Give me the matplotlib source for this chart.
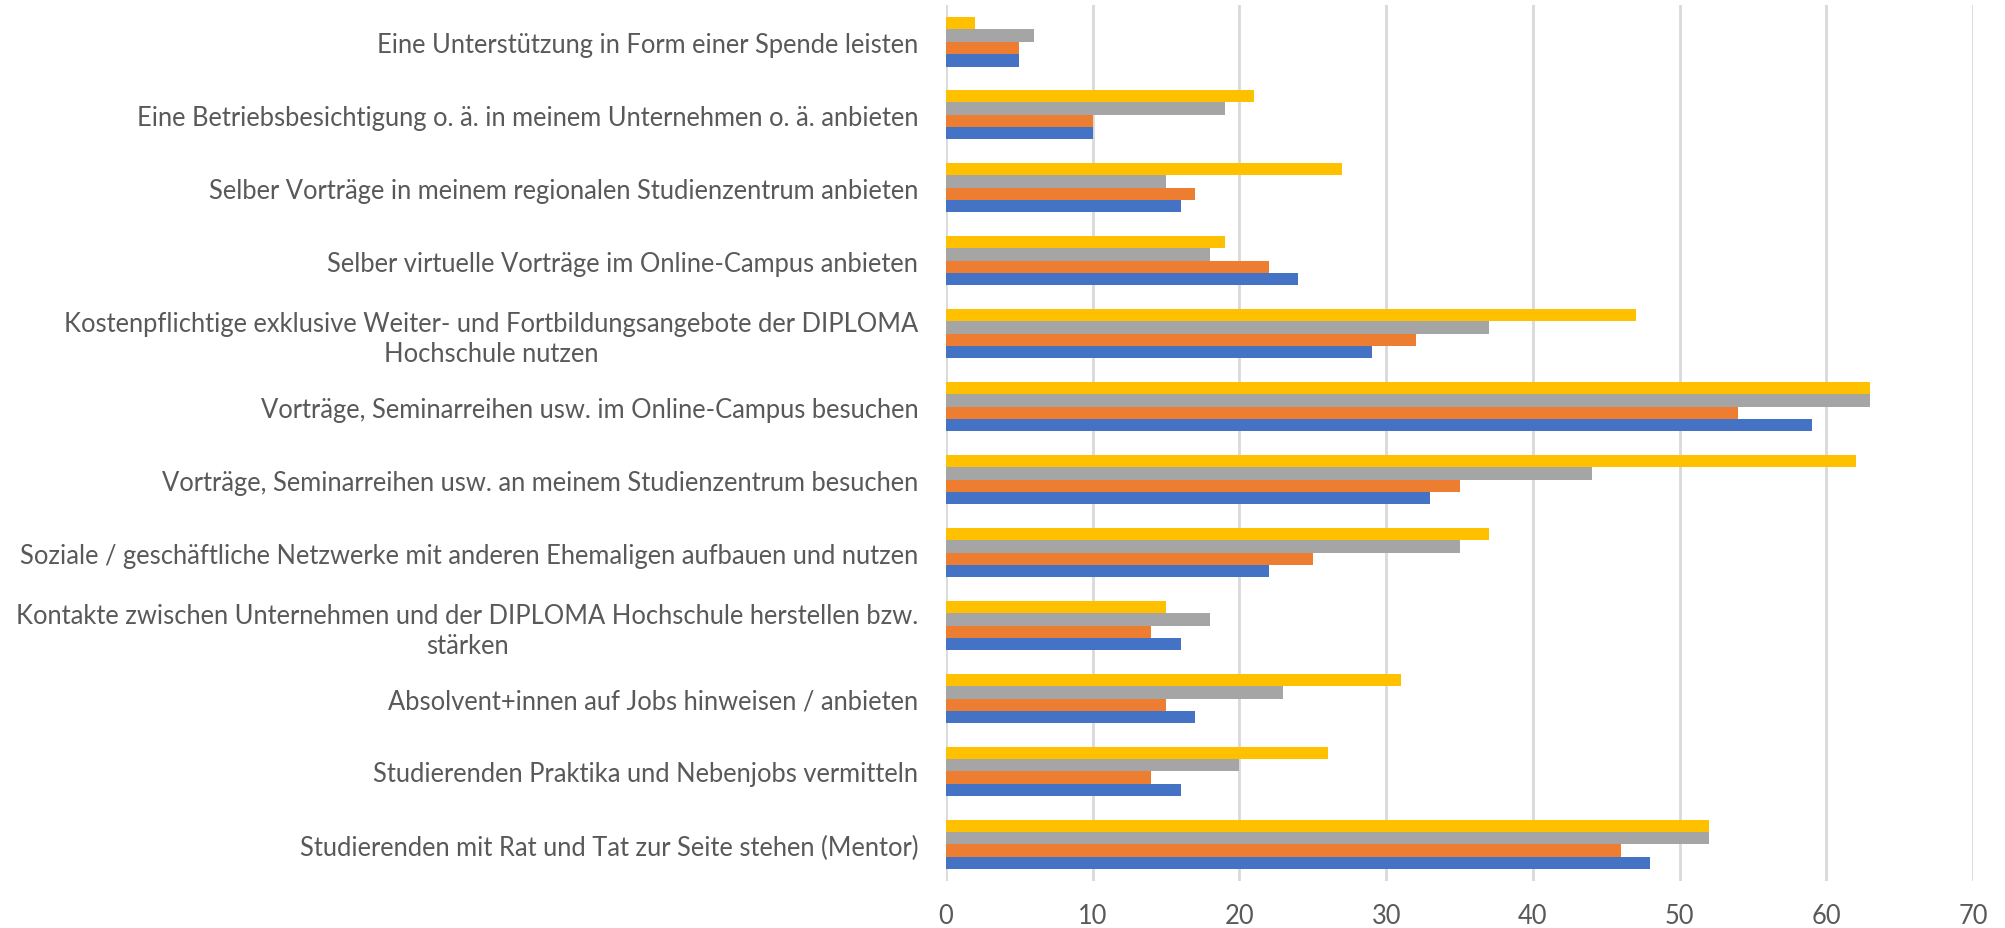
import numpy as np
import matplotlib.pyplot as plt

# Kategorien (von unten nach oben, wie in Excel)
kategorien = [
    "Studierenden mit Rat und Tat zur Seite stehen (Mentor)",
    "Studierenden Praktika und Nebenjobs vermitteln",
    "Absolvent+innen auf Jobs hinweisen / anbieten",
    "Kontakte zwischen Unternehmen und der DIPLOMA Hochschule herstellen bzw.\nstärken",
    "Soziale / geschäftliche Netzwerke mit anderen Ehemaligen aufbauen und nutzen",
    "Vorträge, Seminarreihen usw. an meinem Studienzentrum besuchen",
    "Vorträge, Seminarreihen usw. im Online-Campus besuchen",
    "Kostenpflichtige exklusive Weiter- und Fortbildungsangebote der DIPLOMA\nHochschule nutzen",
    "Selber virtuelle Vorträge im Online-Campus anbieten",
    "Selber Vorträge in meinem regionalen Studienzentrum anbieten",
    "Eine Betriebsbesichtigung o. ä. in meinem Unternehmen o. ä. anbieten",
    "Eine Unterstützung in Form einer Spende leisten",
]

# Werte je Reihe (gleiche Reihenfolge wie kategorien)
reihe_blau = [48, 16, 17, 16, 22, 33, 59, 29, 24, 16, 10, 5]
reihe_orange = [46, 14, 15, 14, 25, 35, 54, 32, 22, 17, 10, 5]
reihe_grau = [52, 20, 23, 18, 35, 44, 63, 37, 18, 15, 19, 6]
reihe_gelb = [52, 26, 31, 15, 37, 62, 63, 47, 19, 27, 21, 2]

farben = ["#4472C4", "#ED7D31", "#A5A5A5", "#FFC000"]
x_ticks = [0, 10, 20, 30, 40, 50, 60, 70]

plt.rcParams['font.family'] = ['Lato', 'DejaVu Sans']

fig = plt.figure(figsize=(20.06, 9.29), dpi=100)
ax = fig.add_axes([0.4716, 0.0506, 0.9836 - 0.4716, 0.9935 - 0.0506])

y = np.arange(len(kategorien))
h = 0.171
reihen = [reihe_blau, reihe_orange, reihe_grau, reihe_gelb]
for i, (werte, farbe) in enumerate(zip(reihen, farben)):
    ax.barh(y + (i - 1.5) * h, werte, height=h, color=farbe, zorder=3)

ax.set_xlim(0, 70)
ax.set_ylim(-0.5, len(kategorien) - 0.5)
ax.set_xticks(x_ticks)
ax.set_yticks(y)
ax.set_yticklabels(kategorien)
for lbl in ax.get_yticklabels():
    lbl.set_multialignment('center')
    lbl.set_linespacing(1.25)

ax.tick_params(axis='y', length=0, pad=20, labelsize=18.4, labelcolor='#595959')
ax.tick_params(axis='x', length=0, pad=16, labelsize=18.4, labelcolor='#595959')

ax.grid(axis='x', color='#D9D9D9', linewidth=2, zorder=0)
for s in ax.spines.values():
    s.set_visible(False)

plt.savefig("out.png", dpi=100)
plt.close()
